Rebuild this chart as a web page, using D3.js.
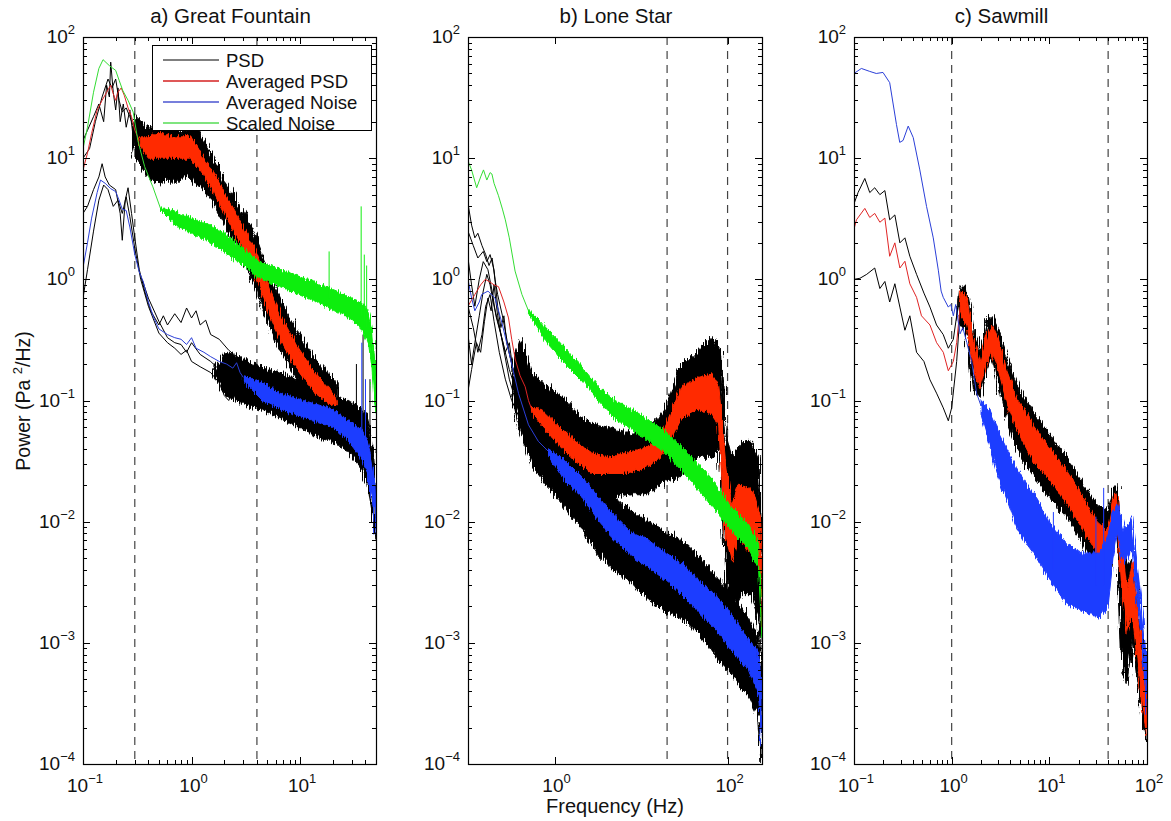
<!DOCTYPE html>
<html>
<head>
<meta charset="utf-8">
<script src="https://cdnjs.cloudflare.com/ajax/libs/d3/7.8.5/d3.min.js"></script>
<style>
  body { margin: 0; background: #fff; }
  svg { font-family: "Liberation Sans", Arial, Helvetica, sans-serif; }
</style>
</head>
<body>
<div id="chart"></div>
<script>
// values: lines are [freq Hz, power], noisy bands are [freq, low, high],
// spikes are [freq, base, top]

// ---- a) Great Fountain
var aDashed = [0.3, 4];
var aBlk1 = [[0.1,14],[0.11,17],[0.125,22],[0.14,28],[0.155,20],[0.165,40],[0.175,32],[0.18,62],[0.19,35],[0.2,25],[0.21,38],[0.22,20],[0.235,28],[0.25,18],[0.27,25],[0.29,15],[0.32,13],[0.35,11]];
var aBlk2 = [[0.1,10],[0.115,12],[0.13,20],[0.15,32],[0.17,45],[0.185,38],[0.2,45],[0.215,30],[0.23,24],[0.25,26],[0.27,22],[0.3,17],[0.35,13]];
var aBlk3 = [[0.1,3.5],[0.11,4],[0.125,5.5],[0.14,7],[0.15,9],[0.16,7],[0.175,6],[0.2,5.5],[0.22,3.5],[0.23,2.1],[0.245,4.5],[0.26,5.7],[0.28,3.5],[0.3,2.2],[0.33,1.2],[0.37,0.8],[0.42,0.55],[0.5,0.42],[0.55,0.5],[0.6,0.42],[0.7,0.52],[0.8,0.44],[0.9,0.58],[1.0,0.48],[1.1,0.55],[1.2,0.42],[1.35,0.46],[1.5,0.35],[1.8,0.32],[2.2,0.26],[2.6,0.23],[3.0,0.2]];
var aBlk4 = [[0.1,0.7],[0.11,1.2],[0.125,2.5],[0.14,4.5],[0.155,6],[0.17,5.5],[0.19,4],[0.21,4.5],[0.23,3.5],[0.25,4.8],[0.27,3.3],[0.3,1.8],[0.34,1.0],[0.4,0.6],[0.5,0.36],[0.6,0.3],[0.7,0.27],[0.8,0.24],[0.9,0.26],[1.0,0.21],[1.2,0.19],[1.5,0.17],[1.8,0.14],[2.0,0.11],[2.2,0.1],[2.5,0.13],[3.0,0.11]];
var aBlk5 = [[0.35,1.0],[0.4,0.7],[0.5,0.45],[0.6,0.33],[0.7,0.3],[0.8,0.29],[0.9,0.25],[1.0,0.3],[1.2,0.24],[1.5,0.21],[1.8,0.18],[2.2,0.16],[2.6,0.15],[3.0,0.14]];
var aBlackUpBand = [[0.28,14,16],[0.3,10,22],[0.4,7,18],[0.5,6,19],[0.6,6.8,17],[0.7,6,20],[0.85,7.2,16],[1.0,6.5,20],[1.3,5.5,14],[1.6,4.2,10],[2.0,2.9,6.8],[2.5,2.0,4.8],[3.0,1.45,3.6],[4.0,0.8,2.2],[5.0,0.45,1.25],[6.5,0.26,0.7],[9,0.16,0.4],[13,0.1,0.24],[18,0.08,0.17],[22,0.075,0.14]];
var aBlackLowBand = [[1.6,0.16,0.18],[2.0,0.11,0.25],[2.5,0.1,0.24],[3,0.095,0.22],[5,0.08,0.18],[8,0.065,0.16],[13,0.052,0.13],[20,0.045,0.11],[28,0.038,0.1],[36,0.027,0.085],[42,0.02,0.07],[46,0.012,0.05],[49,0.0085,0.03],[50,0.007,0.02]];
var aBlackSpikes = [[18.5,0.1,0.17],[33,0.09,0.2],[38,0.06,0.35],[44,0.04,0.15]];
var aRedLine = [[0.1,8],[0.11,11],[0.12,16],[0.135,25],[0.15,30],[0.165,35],[0.18,40],[0.19,34],[0.2,30],[0.21,35],[0.225,38],[0.24,33],[0.26,26],[0.28,22],[0.3,17],[0.33,14]];
var aRedBand = [[0.33,13,15],[0.4,10,15],[0.5,10,16],[0.7,10,15],[1.0,10,15],[1.26,7.5,10.5],[1.6,5.2,7.6],[2.0,3.5,5.2],[2.5,2.4,3.7],[3.0,1.75,2.7],[4.0,1.0,1.65],[5.0,0.56,0.93],[6.5,0.32,0.52],[9,0.19,0.3],[13,0.12,0.18],[18,0.095,0.13],[22,0.09,0.1]];
var aBlueLine = [[0.1,1.25],[0.11,2],[0.12,3.2],[0.135,5.2],[0.145,6.6],[0.16,6.2],[0.18,5.6],[0.2,5.3],[0.215,4.5],[0.23,3.8],[0.25,3.7],[0.27,2.7],[0.29,1.9],[0.3,1.6],[0.33,1.15],[0.36,0.95],[0.4,0.65],[0.45,0.48],[0.5,0.39],[0.6,0.35],[0.7,0.33],[0.8,0.32],[0.9,0.29],[1.0,0.33],[1.1,0.27],[1.3,0.25],[1.5,0.23],[1.8,0.21],[2.1,0.2],[2.4,0.185],[2.6,0.205],[2.8,0.17],[3.0,0.155]];
var aBlueBand = [[3.0,0.145,0.16],[4.5,0.1,0.14],[6.5,0.085,0.115],[9,0.077,0.105],[13,0.068,0.095],[20,0.06,0.085],[27,0.048,0.07],[36,0.034,0.058],[42,0.025,0.045],[46,0.015,0.032],[49,0.01,0.02],[50,0.008,0.013]];
var aBlueSpikes = [[37,0.05,0.3],[40,0.04,0.15]];
var aGreenLine = [[0.1,12],[0.11,18],[0.125,35],[0.14,55],[0.153,65],[0.175,58],[0.2,53],[0.215,44],[0.233,36],[0.26,30],[0.29,24],[0.32,14],[0.37,8.5],[0.44,5.8],[0.52,3.8]];
var aGreenBand = [[0.52,3.7,3.9],[0.7,2.8,3.6],[1.0,2.4,3.2],[1.5,2.0,2.8],[2.0,1.7,2.4],[3.0,1.3,1.8],[4.0,1.05,1.45],[6,0.9,1.25],[10,0.74,1.05],[15,0.64,0.92],[20,0.56,0.82],[30,0.46,0.7],[38,0.38,0.62],[43,0.28,0.52],[46,0.18,0.4],[48,0.1,0.25],[50,0.08,0.14]];
var aGreenSpikes = [[18.5,0.7,1.7],[36.5,0.5,4.0],[39,0.45,1.6],[41,0.4,1.3]];

// ---- b) Lone Star
var bDashed = [20, 100];
var bBlk1 = [[0.1,4.2],[0.11,2.8],[0.12,2.2],[0.13,2.4],[0.145,1.9],[0.16,1.6],[0.175,1.3],[0.19,1.5],[0.205,1.0],[0.22,0.75],[0.25,0.5],[0.3,0.25],[0.35,0.15],[0.42,0.1],[0.5,0.08]];
var bBlk2 = [[0.1,2.5],[0.115,1.9],[0.13,1.5],[0.15,1.7],[0.165,1.4],[0.18,1.6],[0.2,1.2],[0.22,0.6],[0.24,0.4],[0.26,0.5],[0.28,0.3],[0.32,0.2],[0.38,0.13],[0.45,0.09],[0.55,0.06]];
var bBlk3 = [[0.1,1.5],[0.11,0.9],[0.12,0.6],[0.135,1.0],[0.15,1.4],[0.17,1.2],[0.19,0.8],[0.21,0.5],[0.24,0.35],[0.27,0.25],[0.3,0.3],[0.33,0.18],[0.4,0.1],[0.5,0.07]];
var bBlk4 = [[0.1,0.35],[0.11,0.2],[0.12,0.3],[0.135,0.5],[0.15,0.8],[0.165,1.1],[0.18,0.9],[0.2,0.6],[0.23,0.4],[0.26,0.28],[0.3,0.18],[0.36,0.12],[0.45,0.07]];
var bBlk5 = [[0.1,0.12],[0.11,0.18],[0.125,0.3],[0.14,0.25],[0.155,0.45],[0.17,0.7],[0.185,0.55],[0.2,0.9],[0.22,0.5],[0.25,0.3],[0.3,0.15],[0.37,0.09],[0.45,0.06]];
var bBlk6 = [[0.1,0.6],[0.115,0.4],[0.13,0.25],[0.145,0.35],[0.16,0.6],[0.18,0.75],[0.2,0.45],[0.23,0.25],[0.27,0.15],[0.32,0.1],[0.4,0.07]];
var bBlackUpBand = [[0.33,0.16,0.2],[0.4,0.1,0.32],[0.47,0.07,0.25],[0.547,0.046,0.17],[0.85,0.034,0.13],[1.33,0.02,0.105],[2.07,0.019,0.072],[3.2,0.016,0.062],[5,0.016,0.058],[7.8,0.017,0.053],[12.2,0.017,0.062],[19,0.022,0.084],[27,0.023,0.18],[46,0.034,0.26],[66,0.034,0.33],[82,0.04,0.26],[98,0.0025,0.05],[112,0.0017,0.034],[146,0.0025,0.046],[191,0.0025,0.045],[228,0.0017,0.034],[250,0.00054,0.011]];
var bBlackLowBand = [[0.33,0.1,0.16],[0.384,0.06,0.18],[0.547,0.029,0.114],[0.85,0.019,0.072],[1.33,0.013,0.053],[2.07,0.0088,0.034],[3.2,0.0053,0.025],[5,0.0039,0.016],[7.8,0.0031,0.012],[12.2,0.0023,0.0103],[19,0.0018,0.0081],[29.6,0.0016,0.007],[46,0.0012,0.0053],[72,0.00079,0.0036],[112,0.00055,0.0025],[175,0.00037,0.0016],[228,0.00024,0.00107],[250,0.0001,0.00054]];
var bRedLine = [[0.1,0.6],[0.12,0.75],[0.14,0.9],[0.158,1.0],[0.18,0.95],[0.2,0.9],[0.225,0.87],[0.26,0.65],[0.294,0.48],[0.32,0.32],[0.351,0.22],[0.4,0.16],[0.458,0.13],[0.5,0.1],[0.547,0.084]];
var bRedBand = [[0.547,0.08,0.088],[0.714,0.062,0.084],[1.11,0.043,0.062],[1.73,0.032,0.046],[2.7,0.025,0.037],[4.2,0.025,0.034],[6.5,0.025,0.037],[10.2,0.027,0.04],[15.9,0.032,0.046],[20.8,0.043,0.072],[29.6,0.072,0.13],[46,0.084,0.155],[66,0.078,0.166],[79,0.062,0.13],[94,0.0076,0.034],[112,0.0048,0.0138],[134,0.0076,0.02],[175,0.0056,0.019],[208,0.007,0.016],[240,0.0035,0.011],[250,0.0012,0.0053]];
var bBlueLine = [[0.1,1.0],[0.11,0.7],[0.12,0.55],[0.135,0.65],[0.144,0.75],[0.17,0.8],[0.205,0.7],[0.246,0.44],[0.294,0.26],[0.384,0.114],[0.5,0.063],[0.65,0.046],[0.85,0.038]];
var bBlueBand = [[0.85,0.036,0.04],[1.33,0.0215,0.032],[2.07,0.016,0.0235],[3.2,0.0103,0.016],[5,0.007,0.011],[7.8,0.0052,0.0081],[12.2,0.0042,0.007],[19,0.0033,0.0056],[29.6,0.0025,0.0045],[46,0.0018,0.0033],[72,0.0013,0.0025],[112,0.00085,0.0017],[175,0.00059,0.00107],[228,0.00037,0.00085],[250,0.00014,0.00037]];
var bGreenLine = [[0.1,9.5],[0.11,8],[0.126,5.7],[0.14,7],[0.151,8],[0.165,6.6],[0.18,7.6],[0.189,7.4],[0.2,6.2],[0.225,4.9],[0.25,3.8],[0.27,3.1],[0.3,2.2],[0.35,1.17],[0.42,0.75],[0.5,0.55]];
var bGreenBand = [[0.5,0.53,0.57],[0.85,0.29,0.38],[1.33,0.2,0.27],[2.07,0.145,0.19],[3.2,0.1,0.13],[5,0.07,0.1],[7.8,0.058,0.085],[12,0.047,0.07],[19,0.037,0.056],[30,0.026,0.041],[46,0.018,0.03],[72,0.0125,0.021],[112,0.0083,0.013],[175,0.006,0.0095],[228,0.0041,0.0066],[250,0.0011,0.0017]];

// ---- c) Sawmill
var cDashed = [1, 40];
var cBlk1 = [[0.1,4.2],[0.11,5.2],[0.129,6.8],[0.145,5.2],[0.163,5.7],[0.184,5.0],[0.207,5.4],[0.232,3.1],[0.262,3.4],[0.295,2.0],[0.332,2.2],[0.373,1.55],[0.437,1.1],[0.52,0.77],[0.6,0.59],[0.7,0.42],[0.82,0.35],[0.924,0.27],[1.04,0.32],[1.125,0.5],[1.22,0.71]];
var cBlk2 = [[0.1,1.0],[0.115,1.02],[0.135,1.1],[0.163,1.24],[0.184,0.84],[0.207,0.96],[0.232,0.65],[0.262,0.92],[0.295,0.59],[0.332,0.38],[0.373,0.5],[0.437,0.25],[0.52,0.21],[0.6,0.148],[0.7,0.115],[0.82,0.087],[0.924,0.068],[1.0,0.087],[1.125,0.21],[1.25,0.71]];
var cBlackBand = [[1.18,0.5,0.7],[1.22,0.42,0.88],[1.43,0.35,0.88],[1.67,0.125,0.38],[1.95,0.105,0.25],[2.29,0.176,0.46],[2.58,0.23,0.5],[3.0,0.135,0.38],[3.67,0.068,0.23],[4.65,0.04,0.135],[6.9,0.024,0.08],[10.2,0.0155,0.052],[15.2,0.0108,0.034],[22.5,0.0065,0.02],[30.8,0.0039,0.014],[39,0.0027,0.012],[45.6,0.0077,0.0184],[49.4,0.0077,0.02],[55.5,0.00057,0.0077],[62.6,0.00047,0.0042],[70.5,0.0011,0.005],[79,0.00047,0.0027],[89,0.00023,0.001],[100,0.00015,0.0004]];
var cRedLine = [[0.1,2.6],[0.106,3.1],[0.129,3.85],[0.145,3.24],[0.163,3.5],[0.184,2.96],[0.207,3.2],[0.232,1.55],[0.262,2.0],[0.295,1.24],[0.332,1.41],[0.373,0.92],[0.437,0.71],[0.491,0.5],[0.599,0.42],[0.701,0.3],[0.821,0.25],[0.924,0.176],[1.04,0.21],[1.125,0.3],[1.22,0.59]];
var cRedBand = [[1.2,0.55,0.65],[1.25,0.5,0.8],[1.43,0.42,0.71],[1.67,0.18,0.32],[1.95,0.125,0.21],[2.29,0.21,0.35],[2.58,0.25,0.42],[3.0,0.18,0.32],[3.67,0.095,0.176],[4.65,0.057,0.104],[6.9,0.031,0.062],[10.2,0.022,0.04],[15.2,0.014,0.026],[22.5,0.0084,0.0155],[30.8,0.0055,0.01],[39,0.005,0.0084],[45.6,0.01,0.0168],[49.4,0.0092,0.0168],[55.5,0.0027,0.0065],[62.6,0.0012,0.0027],[70.5,0.0018,0.0046],[79,0.00074,0.0019],[89,0.0003,0.00074],[100,0.00017,0.0003]];
var cBlueLine = [[0.1,50],[0.119,55],[0.145,52],[0.169,50],[0.198,51],[0.232,42],[0.272,19],[0.294,13.5],[0.318,14],[0.359,18.4],[0.404,14.8],[0.472,8],[0.553,4.0],[0.648,2.2],[0.73,1.19],[0.78,0.8],[0.82,0.71],[0.924,0.59],[0.98,0.62],[1.04,0.5],[1.1,0.62],[1.22,0.355],[1.3,0.4],[1.43,0.3],[1.6,0.21],[1.8,0.115],[2.0,0.09]];
var cBlueBand = [[2.0,0.075,0.1],[2.5,0.04,0.08],[3.0,0.024,0.057],[3.7,0.015,0.04],[4.6,0.009,0.028],[5.9,0.0065,0.02],[7.5,0.005,0.0155],[10,0.0033,0.01],[15,0.0021,0.0065],[22,0.0018,0.0055],[33,0.0016,0.0055],[40,0.002,0.0078],[45,0.005,0.012],[50,0.008,0.014],[55,0.005,0.01],[58,0.0045,0.0085],[65,0.0055,0.0095],[70,0.006,0.011],[79,0.0022,0.0045],[90,0.0009,0.0018],[100,0.00025,0.0006]];
var cBlueSpikes = [[11,0.004,0.012],[30,0.003,0.011],[36,0.003,0.019]];

var legendItems = ["PSD", "Averaged PSD", "Averaged Noise", "Scaled Noise"];
var legendColors = ["#555555", "#d42020", "#4a55d0", "#55dd55"];
var yTickExp = [-4, -3, -2, -1, 0, 1, 2];

// ---- layout
var W = 1171, H = 821, yTop = 37, yBot = 764;
var BLACK = "#000", RED = "#ff2a00", REDLINE = "#e02424", BLUE = "#1f3cff", BLUELINE = "#2b3fd8", GREEN = "#11ee11", GREENLINE = "#33dd33";

var panels = [
  { title: "a) Great Fountain", x0: 83, x1: 376, fDom: [0.1, 50], xExp: [-1, 0, 1], minorX: true, dashed: aDashed,
    blackLines: [aBlk1, aBlk2, aBlk3, aBlk4, aBlk5], blackBands: [aBlackUpBand, aBlackLowBand], blackSpikes: aBlackSpikes,
    redLine: aRedLine, redBand: aRedBand, blueLine: aBlueLine, blueBand: aBlueBand, blueSpikes: aBlueSpikes,
    greenLine: aGreenLine, greenBand: aGreenBand, greenSpikes: aGreenSpikes },
  { title: "b) Lone Star", x0: 468, x1: 762, fDom: [0.1, 250], xExp: [0, 2], minorX: false, dashed: bDashed,
    blackLines: [bBlk1, bBlk2, bBlk3, bBlk4, bBlk5, bBlk6], blackBands: [bBlackUpBand, bBlackLowBand], blackSpikes: [],
    redLine: bRedLine, redBand: bRedBand, blueLine: bBlueLine, blueBand: bBlueBand, blueSpikes: [],
    greenLine: bGreenLine, greenBand: bGreenBand, greenSpikes: [] },
  { title: "c) Sawmill", x0: 854, x1: 1147, fDom: [0.1, 100], xExp: [-1, 0, 1, 2], minorX: true, dashed: cDashed,
    blackLines: [cBlk1, cBlk2], blackBands: [cBlackBand], blackSpikes: [],
    redLine: cRedLine, redBand: cRedBand, blueLine: cBlueLine, blueBand: cBlueBand, blueSpikes: cBlueSpikes,
    greenLine: null, greenBand: null, greenSpikes: [] }
];

var svg = d3.select("#chart").append("svg")
  .attr("width", W)
  .attr("height", H);
svg.append("rect").attr("width", W).attr("height", H).attr("fill", "#fff");

// texture only: makes the filled bands look like dense, noisy spectra
var defs = svg.append("defs");
function roughFilter(id, scale, seed) {
  var f = defs.append("filter").attr("id", id)
    .attr("x", "-5%").attr("y", "-30%").attr("width", "110%").attr("height", "160%");
  f.append("feTurbulence").attr("type", "fractalNoise")
    .attr("baseFrequency", "0.9 0.04").attr("numOctaves", 2).attr("seed", seed).attr("result", "n");
  f.append("feDisplacementMap").attr("in", "SourceGraphic").attr("in2", "n")
    .attr("scale", scale).attr("xChannelSelector", "G").attr("yChannelSelector", "R");
}
roughFilter("roughBig", 12, 2);
roughFilter("roughSmall", 7, 5);

var y = d3.scaleLog().domain([1e-4, 1e2]).range([yBot, yTop]);

function minorTicks(lo, hi) {
  var out = [];
  for (var e = Math.floor(Math.log10(lo)); e < Math.ceil(Math.log10(hi)); e++) {
    for (var k = 2; k <= 9; k++) {
      var v = k * Math.pow(10, e);
      if (v > lo && v < hi) out.push(v);
    }
  }
  return out;
}

function powLabel(g, x, yy, exp, anchor) {
  var t = g.append("text")
    .attr("x", x).attr("y", yy)
    .attr("text-anchor", anchor)
    .style("font-size", "19px")
    .attr("fill", "#111");
  t.append("tspan").text("10");
  t.append("tspan")
    .attr("dy", -9)
    .style("font-size", "13px")
    .text(exp < 0 ? "\u2212" + (-exp) : exp);
}

panels.forEach(function(p, i) {
  var x = d3.scaleLog().domain(p.fDom).range([p.x0, p.x1]);
  var g = svg.append("g");

  var clipId = "clip" + i;
  svg.append("clipPath").attr("id", clipId)
    .append("rect")
    .attr("x", p.x0).attr("y", yTop)
    .attr("width", p.x1 - p.x0).attr("height", yBot - yTop);

  var line = d3.line().x(function(d) { return x(d[0]); }).y(function(d) { return y(d[1]); });
  var area = d3.area().x(function(d) { return x(d[0]); })
    .y0(function(d) { return y(d[1]); })
    .y1(function(d) { return y(d[2]); });
  var spike = function(d) { return line([[d[0], d[1]], [d[0], d[2]]]); };

  var plot = g.append("g").attr("clip-path", "url(#" + clipId + ")");

  // vertical dashed markers
  plot.selectAll(".dash").data(p.dashed).enter().append("line")
    .attr("x1", function(d) { return x(d); }).attr("x2", function(d) { return x(d); })
    .attr("y1", yTop).attr("y2", yBot)
    .attr("stroke", "#444").attr("stroke-width", 1.2)
    .attr("stroke-dasharray", "8,6");

  // individual PSDs (black)
  plot.selectAll(".blk").data(p.blackLines).enter().append("path")
    .attr("d", line).attr("fill", "none").attr("stroke", BLACK).attr("stroke-width", 1);
  plot.selectAll(".blkband").data(p.blackBands).enter().append("g")
    .attr("filter", "url(#roughBig)")
    .append("path")
    .attr("d", area).attr("fill", BLACK).attr("stroke", BLACK).attr("stroke-width", 1);
  plot.selectAll(".blkspike").data(p.blackSpikes).enter().append("path")
    .attr("d", spike).attr("stroke", BLACK).attr("stroke-width", 1);

  // averaged PSD (red)
  plot.append("path").datum(p.redLine).attr("d", line)
    .attr("fill", "none").attr("stroke", REDLINE).attr("stroke-width", 1);
  plot.append("g").attr("filter", "url(#roughSmall)")
    .append("path").datum(p.redBand).attr("d", area)
    .attr("fill", RED).attr("stroke", RED).attr("stroke-width", 1);

  // averaged noise (blue)
  plot.append("path").datum(p.blueLine).attr("d", line)
    .attr("fill", "none").attr("stroke", BLUELINE).attr("stroke-width", 1);
  plot.append("g").attr("filter", "url(#roughSmall)")
    .append("path").datum(p.blueBand).attr("d", area)
    .attr("fill", BLUE).attr("stroke", BLUE).attr("stroke-width", 1);
  plot.selectAll(".bluespike").data(p.blueSpikes).enter().append("path")
    .attr("d", spike).attr("stroke", BLUE).attr("stroke-width", 1);

  // scaled noise (green)
  if (p.greenLine) {
    plot.append("path").datum(p.greenLine).attr("d", line)
      .attr("fill", "none").attr("stroke", GREENLINE).attr("stroke-width", 1);
    plot.append("g").attr("filter", "url(#roughSmall)")
      .append("path").datum(p.greenBand).attr("d", area)
      .attr("fill", GREEN).attr("stroke", GREEN).attr("stroke-width", 1);
    plot.selectAll(".greenspike").data(p.greenSpikes).enter().append("path")
      .attr("d", spike).attr("stroke", GREEN).attr("stroke-width", 1);
  }

  // ticks, inside on all four sides
  var ax = g.append("g").attr("stroke", "#000").attr("stroke-width", 1);
  var xMaj = p.xExp.map(function(e) { return Math.pow(10, e); });
  var xMin = p.minorX ? minorTicks(p.fDom[0], p.fDom[1]) : [];
  var yMaj = yTickExp.map(function(e) { return Math.pow(10, e); });
  var yMin = minorTicks(1e-4, 1e2);
  [[xMaj, 7], [xMin, 4]].forEach(function(s) {
    s[0].forEach(function(v) {
      var xx = Math.round(x(v)) + 0.5;
      ax.append("line").attr("x1", xx).attr("x2", xx).attr("y1", yBot).attr("y2", yBot - s[1]);
      ax.append("line").attr("x1", xx).attr("x2", xx).attr("y1", yTop).attr("y2", yTop + s[1]);
    });
  });
  [[yMaj, 7], [yMin, 4]].forEach(function(s) {
    s[0].forEach(function(v) {
      var yy = Math.round(y(v)) + 0.5;
      ax.append("line").attr("x1", p.x0).attr("x2", p.x0 + s[1]).attr("y1", yy).attr("y2", yy);
      ax.append("line").attr("x1", p.x1).attr("x2", p.x1 - s[1]).attr("y1", yy).attr("y2", yy);
    });
  });
  g.append("rect")
    .attr("x", p.x0 + 0.5).attr("y", yTop + 0.5)
    .attr("width", p.x1 - p.x0).attr("height", yBot - yTop)
    .attr("fill", "none").attr("stroke", "#000").attr("stroke-width", 1.2);

  // tick labels
  yTickExp.forEach(function(e) { powLabel(g, p.x0 - 8, y(Math.pow(10, e)) + 6, e, "end"); });
  p.xExp.forEach(function(e) { powLabel(g, x(Math.pow(10, e)) + 2, yBot + 28, e, "middle"); });

  // title
  g.append("text")
    .attr("x", (p.x0 + p.x1) / 2 + 1).attr("y", 23)
    .attr("text-anchor", "middle")
    .style("font-size", "20.5px")
    .attr("fill", "#111")
    .text(p.title);
});

// legend (panel a)
var leg = svg.append("g");
leg.append("rect")
  .attr("x", 152.5).attr("y", 45.5).attr("width", 219).attr("height", 85)
  .attr("fill", "#fff").attr("stroke", "#000").attr("stroke-width", 1);
legendItems.forEach(function(name, i) {
  var cy = 60 + i * 21;
  leg.append("line")
    .attr("x1", 163).attr("x2", 219).attr("y1", cy).attr("y2", cy)
    .attr("stroke", legendColors[i]).attr("stroke-width", 1.3);
  leg.append("text")
    .attr("x", 226).attr("y", cy + 6.5)
    .style("font-size", "18.5px")
    .attr("fill", "#111")
    .text(name);
});

// axis labels
svg.append("text")
  .attr("x", 615).attr("y", 813)
  .attr("text-anchor", "middle")
  .style("font-size", "20px")
  .attr("fill", "#111")
  .text("Frequency (Hz)");

var yl = svg.append("text")
  .attr("transform", "translate(30,401) rotate(-90)")
  .attr("text-anchor", "middle")
  .style("font-size", "19.5px")
  .attr("fill", "#111");
yl.append("tspan").text("Power (Pa ");
yl.append("tspan").attr("dy", -8).style("font-size", "13px").text("2");
yl.append("tspan").attr("dy", 8).text("/Hz)");
</script>
</body>
</html>
